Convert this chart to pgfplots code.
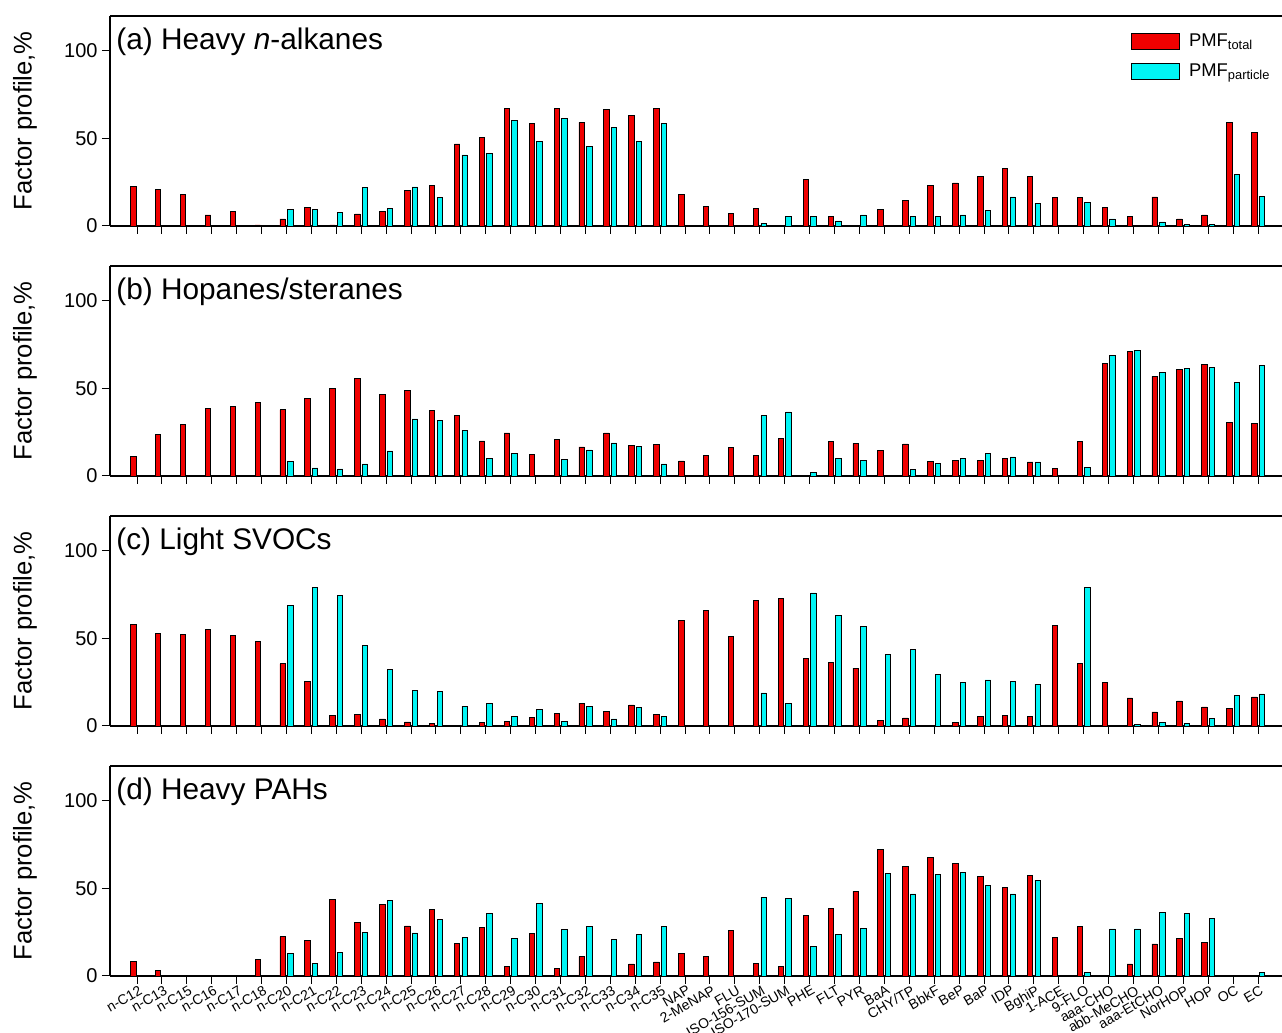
\documentclass[border=0pt]{standalone}
\usepackage{pgfplots}
\pgfplotsset{compat=1.18}
\usepackage{pgfplotstable}
\usepackage{fontspec}
\setmainfont{Liberation Sans}
\definecolor{barred}{RGB}{240,0,0}
\definecolor{barcyan}{RGB}{0,245,245}

\pgfplotstableread{
x r c
0 22.5 nan
1 20.8 nan
2 18.1 nan
3 6.3 nan
4 8.4 nan
5 0.6 nan
6 4.0 9.2
7 10.5 9.2
8 0.6 7.8
9 6.9 21.9
10 8.2 9.9
11 20.4 22.3
12 23.3 16.2
13 46.9 40.6
14 50.4 41.4
15 67.4 60.5
16 58.6 48.5
17 67.2 61.5
18 59.2 45.2
19 66.8 56.5
20 63.4 48.5
21 67.4 58.8
22 18.1 nan
23 11.1 nan
24 7.3 nan
25 9.9 1.3
26 nan 5.7
27 26.7 5.3
28 5.7 2.9
29 nan 6.3
30 9.4 nan
31 14.7 5.7
32 23.3 5.2
33 24.6 6.3
34 28.4 9.0
35 33.0 16.6
36 28.4 13.0
37 16.2 nan
38 16.2 13.5
39 10.7 4.0
40 5.7 nan
41 16.6 2.3
42 4.0 1.0
43 6.3 1.0
44 59.2 29.2
45 53.2 16.8
}\dataa

\pgfplotstableread{
x r c
0 11.1 nan
1 23.5 nan
2 29.2 nan
3 38.7 nan
4 39.9 nan
5 42.0 nan
6 37.8 8.4
7 44.3 4.6
8 49.8 4.0
9 55.7 6.9
10 46.4 14.3
11 48.7 32.6
12 37.4 31.7
13 34.5 26.1
14 20.0 9.9
15 24.6 12.8
16 12.2 nan
17 21.0 9.5
18 16.6 14.9
19 24.6 18.9
20 17.6 17.0
21 17.9 6.9
22 8.6 nan
23 11.6 nan
24 16.4 nan
25 11.5 34.5
26 21.4 36.6
27 nan 1.9
28 19.8 9.9
29 18.7 9.0
30 14.5 nan
31 18.3 3.6
32 8.4 7.3
33 9.0 9.9
34 9.0 13.0
35 9.9 10.9
36 8.0 8.0
37 4.4 nan
38 19.5 5.0
39 64.1 69.1
40 71.2 71.9
41 56.9 59.0
42 60.7 61.5
43 63.7 61.8
44 30.7 53.4
45 29.8 63.0
}\datab

\pgfplotstableread{
x r c
0 58.0 nan
1 52.9 nan
2 52.5 nan
3 55.0 nan
4 51.7 nan
5 48.3 nan
6 35.5 69.1
7 25.2 79.2
8 6.1 74.4
9 6.7 46.0
10 4.0 32.4
11 2.3 20.2
12 1.3 19.8
13 nan 11.3
14 1.9 13.0
15 2.5 5.2
16 4.8 9.4
17 7.4 2.5
18 13.0 11.3
19 8.4 4.0
20 12.0 10.5
21 6.7 5.7
22 60.3 nan
23 66.2 nan
24 51.0 nan
25 71.8 18.9
26 72.9 13.0
27 38.7 76.0
28 36.1 63.0
29 33.0 57.1
30 3.1 41.0
31 4.6 43.5
32 nan 29.4
33 2.1 24.8
34 5.3 26.3
35 5.9 25.4
36 5.7 23.9
37 57.4 nan
38 35.5 79.4
39 24.8 nan
40 16.0 1.0
41 8.0 1.9
42 14.3 1.5
43 10.9 4.2
44 9.9 17.2
45 16.6 18.3
}\datac

\pgfplotstableread{
x r c
0 8.4 nan
1 3.2 nan
2 nan nan
3 nan nan
4 nan nan
5 9.4 nan
6 22.5 13.0
7 20.2 7.3
8 43.9 13.5
9 30.7 24.8
10 41.0 43.3
11 28.6 24.6
12 37.8 32.3
13 18.5 21.8
14 27.7 35.7
15 5.7 21.6
16 24.2 41.6
17 4.2 26.5
18 11.1 28.4
19 nan 20.8
20 6.9 23.9
21 8.0 28.1
22 13.0 nan
23 11.1 nan
24 25.8 nan
25 7.3 45.0
26 5.7 44.5
27 34.4 16.8
28 38.4 23.9
29 48.3 27.1
30 72.5 58.8
31 62.4 46.9
32 67.9 58.0
33 64.3 59.2
34 57.1 51.5
35 50.8 46.9
36 57.3 54.8
37 22.1 nan
38 28.4 2.1
39 nan 26.9
40 6.9 26.9
41 18.3 36.3
42 21.2 35.7
43 19.3 33.0
44 nan nan
45 nan 2.1
}\datad

\tikzset{
  ptitle/.style={anchor=north west, font=\fontsize{14.9}{17}\selectfont, inner sep=0pt, xshift=3pt, yshift=-6pt},
}
\pgfplotsset{
  boxlegend/.style={legend image code/.code={\draw[##1] (0pt,-4pt) rectangle (24pt,4pt);}},
  panel/.style={
    width=586pt, height=105pt, scale only axis,
    xmin=-1.084, xmax=45.96, ymin=0, ymax=120,
    axis x line*=bottom, axis y line*=left,
    axis line style={line width=0.6pt, black},
    ytick={0,50,100}, xtick={0,...,45},
    tick align=outside, major tick length=4pt,
    tick style={line width=0.5pt, black},
    ybar=1.1pt, bar width=2.7pt,
    /pgf/number format/assume math mode=true,
    yticklabel style={font=\fontsize{10}{12}\selectfont, inner sep=2pt},
    ylabel={Factor profile,\%},
    ylabel style={font=\fontsize{12.8}{14}\selectfont, at={(axis description cs:-0.0725,0.5)}, anchor=center},
    unbounded coords=discard,
    clip=false,
  },
  rbar/.style={fill=barred, draw=black, line width=0.4pt},
  cbar/.style={fill=barcyan, draw=black, line width=0.4pt},
}

\begin{document}
\begin{tikzpicture}
% panel a
\begin{axis}[panel, at={(0pt,375pt)}, xticklabels={},
  legend style={at={(0.866,0.955)}, anchor=north west, draw=none, fill=none,
    font=\fontsize{9.2}{11}\selectfont, row sep=3pt, legend cell align=left},
  boxlegend]
\addplot[rbar, boxlegend] table[x=x,y=r]{\dataa};
\addplot[cbar, boxlegend] table[x=x,y=c]{\dataa};
\addlegendentry{\hspace{2.5pt}PMF\textsubscript{total}}
\addlegendentry{\hspace{2.5pt}PMF\textsubscript{particle}}
\draw[line width=0.6pt] (rel axis cs:0,1) -- (rel axis cs:1,1);
\node[ptitle] at (rel axis cs:0,1) {(a) Heavy \textit{n}-alkanes};
\end{axis}
% panel b
\begin{axis}[panel, at={(0pt,250pt)}, xticklabels={}]
\addplot[rbar] table[x=x,y=r]{\datab};
\addplot[cbar] table[x=x,y=c]{\datab};
\draw[line width=0.6pt] (rel axis cs:0,1) -- (rel axis cs:1,1);
\node[ptitle] at (rel axis cs:0,1) {(b) Hopanes/steranes};
\end{axis}
% panel c
\begin{axis}[panel, at={(0pt,125pt)}, xticklabels={}]
\addplot[rbar] table[x=x,y=r]{\datac};
\addplot[cbar] table[x=x,y=c]{\datac};
\draw[line width=0.6pt] (rel axis cs:0,1) -- (rel axis cs:1,1);
\node[ptitle] at (rel axis cs:0,1) {(c) Light SVOCs};
\end{axis}
% panel d
\begin{axis}[panel, at={(0pt,0pt)},
  xticklabels={n-C12,n-C13,n-C15,n-C16,n-C17,n-C18,n-C20,n-C21,n-C22,n-C23,n-C24,n-C25,n-C26,n-C27,n-C28,n-C29,n-C30,n-C31,n-C32,n-C33,n-C34,n-C35,NAP,2-MeNAP,FLU,ISO-156-SUM,ISO-170-SUM,PHE,FLT,PYR,BaA,CHY/TP,BbkF,BeP,BaP,IDP,BghiP,1-ACE,9-FLO,aaa-CHO,abb-MeCHO,aaa-EtCHO,NorHOP,HOP,OC,EC},
  xticklabel style={rotate=30, anchor=north east, inner sep=0.5pt, yshift=0pt, xshift=1pt, font=\fontsize{7}{8}\selectfont}]
\addplot[rbar] table[x=x,y=r]{\datad};
\addplot[cbar] table[x=x,y=c]{\datad};
\draw[line width=0.6pt] (rel axis cs:0,1) -- (rel axis cs:1,1);
\node[ptitle] at (rel axis cs:0,1) {(d) Heavy PAHs};
\end{axis}
\pgfresetboundingbox
\path[use as bounding box] (-55pt,-28.5pt) rectangle (586pt,488pt);
\end{tikzpicture}
\end{document}
